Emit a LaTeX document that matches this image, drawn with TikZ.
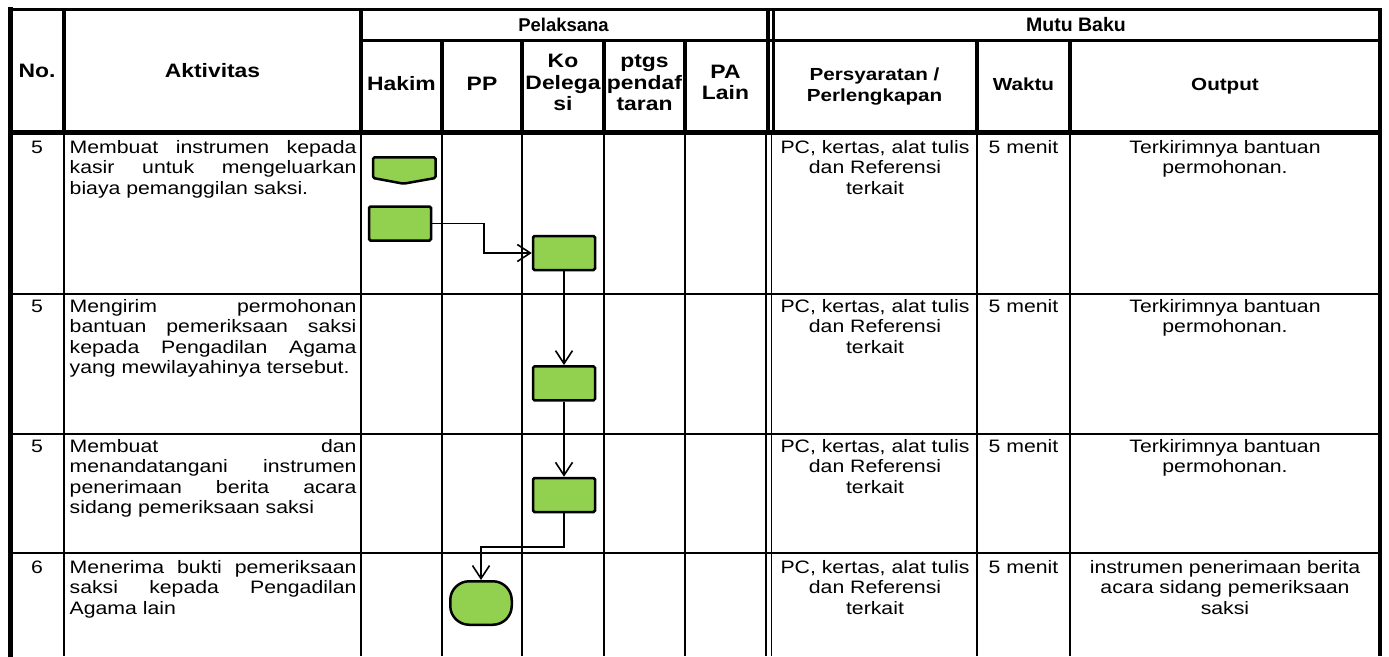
\documentclass[tikz,border=0pt]{standalone}
\usepackage{fontspec}
\setmainfont{Liberation Sans}
\usepackage{graphicx}
\usetikzlibrary{arrows.meta}
\definecolor{boxgreen}{HTML}{92D050}
\newcommand\SX[1]{\scalebox{1.18}[1]{#1}}
\newcommand\JL[1]{\makebox[\linewidth][s]{#1}\\}
\newcommand\BodyFont{\fontsize{18}{20.6}\selectfont}
\newcommand\HeadFont{\fontsize{19.4}{21.3}\selectfont\bfseries}
\newcommand\RHeadFont{\fontsize{17.5}{21.3}\selectfont\bfseries}
\newcommand\HL[1]{\SX{\HeadFont\begin{tabular}{@{}c@{}}#1\end{tabular}}}
\newcommand\RHL[1]{\SX{\RHeadFont\begin{tabular}{@{}c@{}}#1\end{tabular}}}
\newcommand\AKT[1]{\SX{\parbox[t]{243pt}{\BodyFont #1}}}
\newcommand\CTR[2]{\SX{\parbox[t]{#1}{\centering\BodyFont #2}}}
\begin{document}
\begin{tikzpicture}[x=1pt,y=-1pt,
  heavy/.style={line width=3.5pt,line cap=rect},
  frame/.style={line width=5pt,line cap=rect},
  light/.style={line width=1.6pt},
  txt/.style={inner sep=0pt,anchor=base},
  txtl/.style={inner sep=0pt,anchor=base west},
  flowbox/.style={draw,line width=2.5pt,fill=boxgreen,rounded corners=1.5pt,
    minimum width=62pt,minimum height=34pt,inner sep=0pt},
  flowarrow/.style={line width=1.6pt,-{Straight Barb[length=13pt,width=17pt,line width=1.6pt]}}]
\useasboundingbox (0,0) rectangle (1389,656);
% ---------- grid: body ----------
\foreach \xx in {64,361,442,522,604,685,765.8,771.5,977,1070}
  \draw[light] (\xx,132.5) -- (\xx,656);
\foreach \yy in {294,434,553}
  \draw[light] (10,\yy) -- (1380,\yy);
% ---------- grid: header ----------
\draw[heavy] (10,9.5) -- (1380,9.5);
\draw[heavy] (361,40.5) -- (1380,40.5);
\draw[line width=4.5pt] (8,132.5) -- (1381.5,132.5);
\foreach \xx in {64,361,768,773.8}
  \draw[line width=3.2pt] (\xx,9.5) -- (\xx,132.5);
\foreach \xx in {442,522,604,685,977,1070}
  \draw[line width=3.2pt] (\xx,40.5) -- (\xx,132.5);
\draw[frame] (10,9.5) -- (10,656);
\draw[line width=3.5pt] (1380,8) -- (1380,656);
% ---------- header texts ----------
\node (hno) at (37,71) {\SX{\HeadFont No.}};
\node (hakt) at (212.5,71) {\SX{\HeadFont Aktivitas}};
\node (hpel) at (563.5,25) {\fontsize{18.5}{21}\selectfont\bfseries Pelaksana};
\node (hmutu) at (1076,25) {\fontsize{19.5}{22}\selectfont\bfseries Mutu Baku};
\node (hhak) at (401.5,86.5) {\HL{Hakim}};
\node (hpp) at (482,86.5) {\HL{PP}};
\node (hko) at (563,85) {\HL{Ko\\Delega\\si}};
\node (hptg) at (644.5,85) {\HL{ptgs\\pendaf\\taran}};
\node (hpa) at (725.5,85) {\HL{PA\\Lain}};
\node (hper) at (874.5,86.5) {\RHL{Persyaratan /\\Perlengkapan}};
\node (hwak) at (1023.5,86.5) {\RHL{Waktu}};
\node (hout) at (1225,86.5) {\RHL{Output}};
% ---------- row 1 ----------
\node[txt] (n1) at (37,153) {\SX{\BodyFont 5}};
\node[txtl] (a1) at (69.5,153) {\AKT{\JL{Membuat instrumen kepada}\JL{kasir untuk mengeluarkan}biaya pemanggilan saksi.}};
\node[txt] (p1) at (875,153) {\CTR{169pt}{PC, kertas, alat tulis\\dan Referensi\\terkait}};
\node[txt] (w1) at (1023.5,153) {\SX{\BodyFont 5 menit}};
\node[txt] (o1) at (1225,153) {\CTR{250pt}{Terkirimnya bantuan\\permohonan.}};
% ---------- row 2 ----------
\node[txt] (n2) at (37,312) {\SX{\BodyFont 5}};
\node[txtl] (a2) at (69.5,312) {\AKT{\JL{Mengirim permohonan}\JL{bantuan pemeriksaan saksi}\JL{kepada Pengadilan Agama}yang mewilayahinya tersebut.}};
\node[txt] (p2) at (875,312) {\CTR{169pt}{PC, kertas, alat tulis\\dan Referensi\\terkait}};
\node[txt] (w2) at (1023.5,312) {\SX{\BodyFont 5 menit}};
\node[txt] (o2) at (1225,312) {\CTR{250pt}{Terkirimnya bantuan\\permohonan.}};
% ---------- row 3 ----------
\node[txt] (n3) at (37,452) {\SX{\BodyFont 5}};
\node[txtl] (a3) at (69.5,452) {\AKT{\JL{Membuat dan}\JL{menandatangani instrumen}\JL{penerimaan berita acara}sidang pemeriksaan saksi}};
\node[txt] (p3) at (875,452) {\CTR{169pt}{PC, kertas, alat tulis\\dan Referensi\\terkait}};
\node[txt] (w3) at (1023.5,452) {\SX{\BodyFont 5 menit}};
\node[txt] (o3) at (1225,452) {\CTR{250pt}{Terkirimnya bantuan\\permohonan.}};
% ---------- row 4 ----------
\node[txt] (n4) at (37,573) {\SX{\BodyFont 6}};
\node[txtl] (a4) at (69.5,573) {\AKT{\JL{Menerima bukti pemeriksaan}\JL{saksi kepada Pengadilan}Agama lain}};
\node[txt] (p4) at (875,573) {\CTR{169pt}{PC, kertas, alat tulis\\dan Referensi\\terkait}};
\node[txt] (w4) at (1023.5,573) {\SX{\BodyFont 5 menit}};
\node[txt] (o4) at (1225,573) {\CTR{250pt}{instrumen penerimaan berita\\acara sidang pemeriksaan\\saksi}};
% ---------- flow shapes ----------
\draw[line width=2.5pt,fill=boxgreen,rounded corners=1.5pt]
  (373,157.3) -- (435.5,157.3) -- (435.5,178) -- (403.5,183.7) -- (373,178) -- cycle;
\node[flowbox] (r1) at (400,223.5) {};
\node[flowbox] (r2) at (564,253) {};
\node[flowbox] (r3) at (564,383.3) {};
\node[flowbox] (r4) at (564,495) {};
\node[draw,line width=2.5pt,fill=boxgreen,rounded corners=19pt,
  minimum width=61.5pt,minimum height=43.5pt,inner sep=0pt] (t1) at (481,603) {};
% ---------- connectors ----------
\draw[flowarrow] (r1.east) -- ++(51.5,0) |- (r2.west);
\draw[flowarrow] (r2.south) -- (r3.north);
\draw[flowarrow] (r3.south) -- (r4.north);
\draw[flowarrow] (r4.south) -- ++(0,33.5) -| (t1.north);
\end{tikzpicture}
\end{document}
